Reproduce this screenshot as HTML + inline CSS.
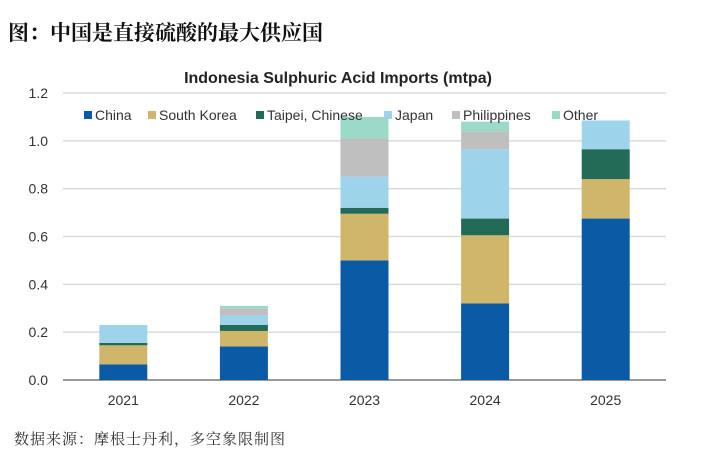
<!DOCTYPE html>
<html><head><meta charset="utf-8">
<style>
html,body{margin:0;padding:0;background:#fff;}
body{width:708px;height:466px;overflow:hidden;position:relative;font-family:"Liberation Sans","Noto Sans CJK SC",sans-serif;}
#hdr{position:absolute;left:8px;top:17px;font-family:"Liberation Serif","Noto Serif CJK SC",serif;font-weight:bold;font-size:21px;color:#111;}
#src{position:absolute;left:14px;top:428px;font-family:"Liberation Serif","Noto Serif CJK SC",serif;font-size:15px;color:#333;letter-spacing:1px;}
</style></head><body>
<div id="hdr">图：中国是直接硫酸的最大供应国</div>
<svg id="chart" width="708" height="466" style="position:absolute;left:0;top:0"></svg>
<div id="src">数据来源：摩根士丹利，多空象限制图</div>
<script>
const categories=["2021","2022","2023","2024","2025"];
const seriesNames=["China","South Korea","Taipei, Chinese","Japan","Philippines","Other"];
const china=[0.065,0.14,0.50,0.32,0.675];
const southKorea=[0.08,0.065,0.195,0.285,0.165];
const taipei=[0.01,0.025,0.025,0.07,0.125];
const japan=[0.075,0.04,0.13,0.29,0.12];
const philippines=[0,0.03,0.16,0.075,0];
const other=[0,0.01,0.09,0.04,0];
const yTicks=[0,0.2,0.4,0.6,0.8,1.0,1.2];
const colors=["#0b5aa5","#cfb66a","#246b57","#9ed3ec","#bfbfbf","#9bd9c8"];
const series=[china,southKorea,taipei,japan,philippines,other];
const NS="http://www.w3.org/2000/svg";
const svg=document.getElementById('chart');
const x0=63,x1=666,yBase=380,yTop=93;
const yScale=v=>yBase-(v/1.2)*(yBase-yTop);
const step=(x1-x0)/categories.length;
const xCenter=i=>x0+step*(i+0.5);
const bw=48;
function mk(t,a){const e=document.createElementNS(NS,t);for(const k in a)e.setAttribute(k,a[k]);svg.appendChild(e);return e;}
const title=mk('text',{x:338,y:83,'text-anchor':'middle','font-size':16,'font-weight':'bold',fill:'#222'});
title.textContent="Indonesia Sulphuric Acid Imports (mtpa)";


yTicks.forEach(v=>{
 const y=yScale(v);
 const g=mk('line',{x1:x0,x2:x1,y1:y,y2:y,stroke:v===0?'#999':'#d9d9d9','stroke-width':v===0?2:1.5});
 
 
 const t=mk('text',{x:48,y:y+5,'text-anchor':'end','font-size':14,fill:'#333'});
 t.textContent=v.toFixed(1);
 
 
});
categories.forEach((c,i)=>{
 let acc=0;
 series.forEach((s,k)=>{
  const v=s[i]; if(v<=0) return;
  const yT=yScale(acc+v), yB=yScale(acc);
  const r=mk('rect',{x:xCenter(i)-bw/2,y:yT,width:bw,height:yB-yT,fill:colors[k]});
  
  
  acc+=v;
 });
 const t=mk('text',{x:xCenter(i),y:405,'text-anchor':'middle','font-size':14,fill:'#333'});
 t.textContent=c;
 
 
});
const legX=[84,148,256,384,452,552];
seriesNames.forEach((n,k)=>{
 const r=mk('rect',{x:legX[k],y:111,width:8,height:8,fill:colors[k]});
 
 
 const t=mk('text',{x:legX[k]+11,y:120,'font-size':14,fill:'#333'});
 t.textContent=n;
 
 
});
</script>
</body></html>
